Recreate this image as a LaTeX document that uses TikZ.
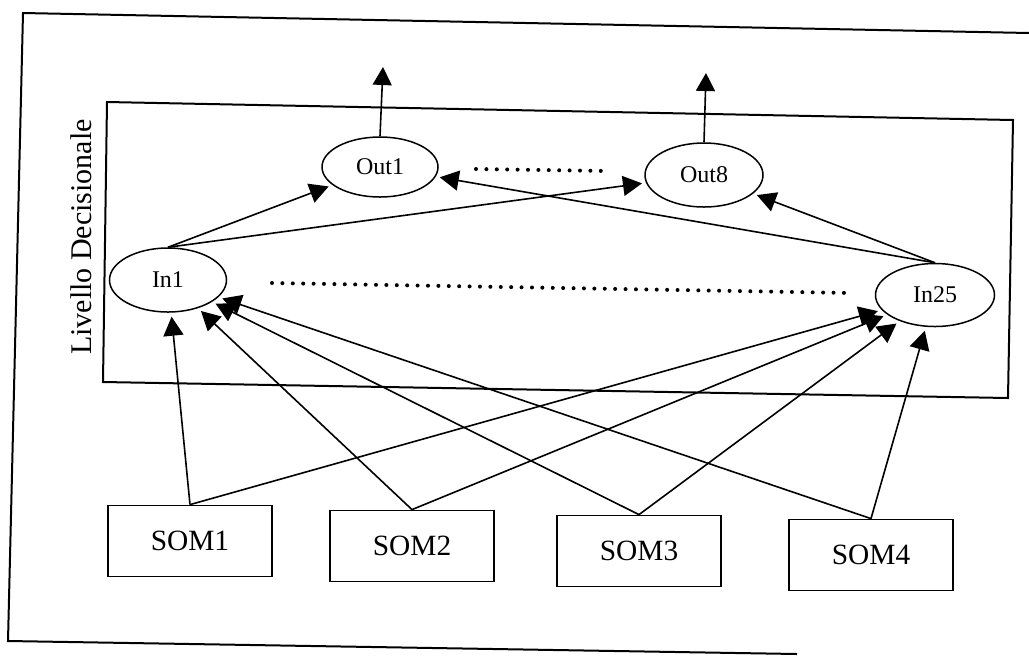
\documentclass[tikz,border=0pt]{standalone}
\usepackage{fontspec}
\setmainfont{Liberation Serif}
\usetikzlibrary{arrows.meta,shapes.geometric}
\begin{document}
\begin{tikzpicture}[x=0.5pt,y=-0.5pt,
  frameline/.style={line width=1pt, line join=miter},
  ell/.style={draw, ellipse, line width=0.75pt, minimum width=59pt, minimum height=31.5pt, inner sep=0pt, font=\fontsize{12pt}{14pt}\selectfont},
  sombox/.style={draw, rectangle, line width=0.9pt, minimum width=82pt, minimum height=35.5pt, inner sep=0pt, font=\fontsize{14.7pt}{17pt}\selectfont},
  conn/.style={line width=0.8pt, -{Triangle[length=9.5pt,width=10pt]}, shorten >=2pt},
  outarrow/.style={line width=0.8pt, -{Triangle[length=9pt,width=9.5pt]}},
  dots/.style={line width=2pt, line cap=round, dash pattern=on 0pt off 5.2pt}
]
\useasboundingbox (0,0) rectangle (1029,655);
\fill[white] (0,0) rectangle (1029,655);

% outer frame
\draw[frameline] (1029,33) -- (23,13) -- (8,641) -- (797,654);
% inner frame
\draw[frameline] (107,102) -- (1013,120) -- (1008,398) -- (103,382) -- cycle;

\node[rotate=90, font=\fontsize{15pt}{18pt}\selectfont, inner sep=0pt] (lab) at (81,237) {Livello Decisionale};

% ellipses
\node[ell, minimum width=58pt, minimum height=30pt] (out1) at (380,167) {Out1};
\node[ell, minimum height=32pt] (out8) at (704,175) {Out8};
\node[ell, minimum width=58.5pt, minimum height=32pt] (in1) at (168,280) {In1};
\node[ell, minimum width=59.5pt] (in25) at (935,295) {In25};

% SOM boxes
\node[sombox] (som1) at (190,541) {SOM1};
\node[sombox] (som2) at (412,546) {SOM2};
\node[sombox] (som3) at (639,551) {SOM3};
\node[sombox] (som4) at (871,555) {SOM4};

% output arrows
\coordinate (o1) at (383,67);
\coordinate (o8) at (706,73);
\draw[outarrow] (out1.north) -- (o1);
\draw[outarrow] (out8.north) -- (o8);

% In -> Out
\draw[conn] (in1.north) -- (out1);
\draw[conn] (in1.north) -- (out8);
\draw[conn] (in25.north) -- (out1);
\draw[conn] (in25.north) -- (out8);

% SOM -> In
\foreach \s in {som1,som2,som3,som4}{
  \draw[conn] (\s.north) -- (in1);
  \draw[conn] (\s.north) -- (in25);
}

% dotted continuations
\coordinate (d1) at (476,169);
\coordinate (d2) at (608,171);
\coordinate (d3) at (272,283);
\coordinate (d4) at (852,293);
\draw[dots] (d1) -- (d2);
\draw[dots] (d3) -- (d4);
\end{tikzpicture}
\end{document}
